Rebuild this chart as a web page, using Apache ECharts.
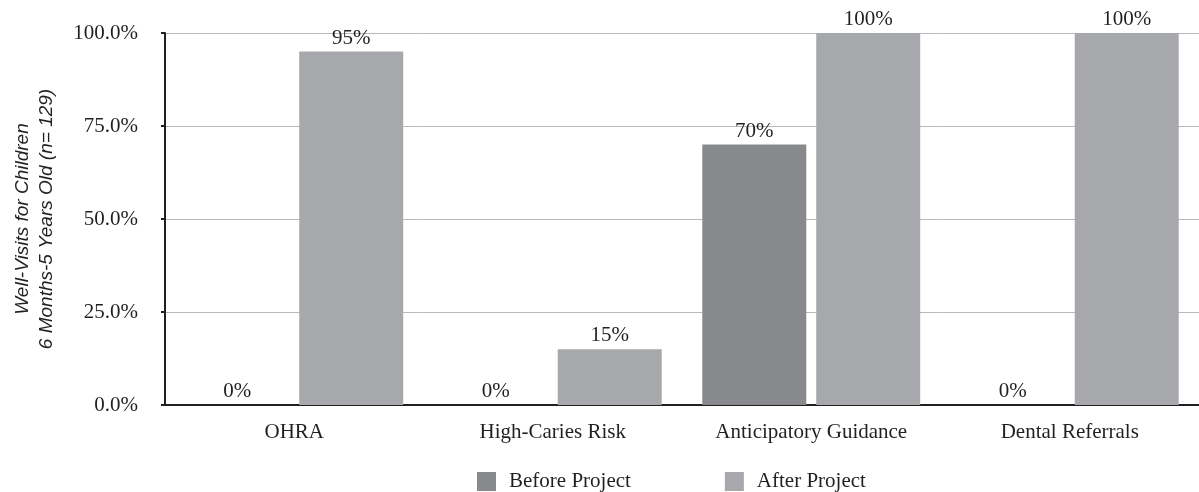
<!DOCTYPE html>
<html>
<head>
<meta charset="utf-8">
<script src="https://cdn.jsdelivr.net/npm/echarts@6/dist/echarts.min.js"></script>
<style>
html,body{margin:0;padding:0;background:#fff;}
#chart{width:1199px;height:492px;}
</style>
</head>
<body>
<div id="chart"></div>
<script>
var categories = ['OHRA', 'High-Caries Risk', 'Anticipatory Guidance', 'Dental Referrals'];
var beforeProject = [0, 0, 70, 0];
var afterProject = [95, 15, 100, 100];
var seriesNames = ['Before Project', 'After Project'];
var yTicks = { min: 0, max: 100, interval: 25 };
var yAxisTitle = 'Well-Visits for Children\n6 Months-5 Years Old (n= 129)';

var serif = '"Liberation Serif", "Times New Roman", serif';
var chart = echarts.init(document.getElementById('chart'), null, { renderer: 'canvas' });
var labelStyle = {
  show: true, position: 'top', distance: 3,
  formatter: '{c}%', color: '#231f20', fontFamily: serif, fontSize: 21
};
chart.setOption({
  animation: false,
  backgroundColor: '#ffffff',
  grid: { left: 165, right: 0, top: 33, bottom: 87, containLabel: false },
  legend: {
    data: seriesNames,
    left: 472, top: 466,
    itemWidth: 19, itemHeight: 19, itemGap: 94,
    icon: 'rect',
    textStyle: { fontFamily: serif, fontSize: 21, color: '#231f20', padding: [0, 0, 0, 8] }
  },
  xAxis: {
    type: 'category',
    data: categories,
    axisLine: { lineStyle: { color: '#231f20', width: 2 } },
    axisTick: { show: false },
    axisLabel: { fontFamily: serif, fontSize: 21, color: '#231f20', margin: 17 }
  },
  yAxis: {
    type: 'value',
    min: yTicks.min, max: yTicks.max, interval: yTicks.interval,
    name: yAxisTitle,
    nameLocation: 'middle',
    nameRotate: 90,
    nameGap: 106,
    nameTextStyle: { fontFamily: '"Liberation Sans", Arial, sans-serif', fontStyle: 'italic', fontSize: 19, color: '#231f20', lineHeight: 24 },
    axisLine: { show: true, lineStyle: { color: '#231f20', width: 2 } },
    axisTick: { show: true, inside: false, length: 4, lineStyle: { color: '#231f20', width: 2 } },
    axisLabel: { formatter: function (v) { return v.toFixed(1) + '%'; }, fontFamily: serif, fontSize: 21, color: '#231f20', margin: 27 },
    splitLine: { show: true, lineStyle: { color: '#b9b9b9', width: 1 } }
  },
  series: [
    { name: seriesNames[0], type: 'bar', data: beforeProject, barGap: '9.6%', barCategoryGap: '15.7%',
      itemStyle: { color: '#88898d' }, label: labelStyle },
    { name: seriesNames[1], type: 'bar', data: afterProject, barGap: '9.6%', barCategoryGap: '15.7%',
      itemStyle: { color: '#a7a8ab' }, label: labelStyle }
  ]
});
</script>
</body>
</html>
